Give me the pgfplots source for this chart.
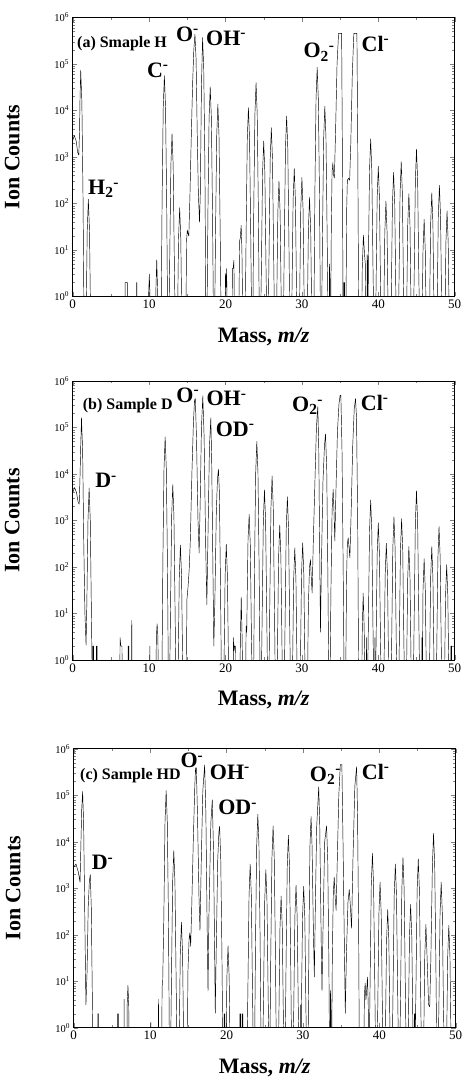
\documentclass[border=0pt]{standalone}
\usepackage{fontspec}
\setmainfont{Liberation Serif}
\usepackage{pgfplots}
\usepackage{pgfplotstable}
\pgfplotsset{compat=1.18}
\pgfkeys{/pgf/number format/assume math mode=true}

% columns: mass, log10(ion counts)
\pgfplotstableread{
x L
0 3.35
0.2 3.46
0.45 3.35
0.65 3.1
0.8 3.04
0.9 3.6
0.95 4.2
1.05 4.86
1.2 4.18
1.35 2.16
1.5 -1
1.6 -1
1.75 -0.61
1.9 1.41
2.05 2.09
2.2 1.41
2.35 -0.61
2.5 -1
6.85 -1
6.85 0.3
7.15 0.3
7.15 -1
8.35 -1
8.35 0.3
8.4 0.3
8.4 -1
9.85 -1
9.95 0.1
10.03 0.48
10.1 0.1
10.2 -1
10.8 -1
10.9 0.2
11 0.79
11.1 0.2
11.2 -1
11.55 -1
11.7 2.05
11.85 4.07
12 4.75
12.15 4.07
12.3 2.05
12.45 -1
12.55 -1
12.7 0.8
12.85 2.82
13 3.5
13.15 2.82
13.3 0.8
13.45 -1
13.55 -1
13.7 -0.79
13.85 1.23
14 1.91
14.15 1.23
14.3 -0.79
14.45 -1
14.8 -1
14.9 1.2
15.0 1.43
15.1 1.35
15.2 1.3
15.35 2.2
15.5 3.3
15.7 4.6
15.85 5.3
16.0 5.64
16.15 5.1
16.3 3.5
16.45 2.2
16.6 1.6
16.7 2.2
16.85 4.5
17.0 5.57
17.15 4.9
17.3 2.87
17.45 -1
17.55 -1
17.7 1.81
17.85 3.83
18 4.51
18.15 3.83
18.3 1.81
18.45 -1
18.55 -1
18.7 1.44
18.85 3.46
19 4.14
19.15 3.46
19.3 1.44
19.45 -1
19.9 -1
20.0 0.5
20.08 0.2
20.15 0.6
20.25 -1
20.85 -1
20.9 0.6
21.0 0.6
21.1 0.78
21.2 -1
21.7 -1
21.85 1.2
21.93 1.25
22.05 1.53
22.15 1.0
22.3 -1
22.55 -1
22.7 1.36
22.85 3.38
23 4.06
23.15 3.38
23.3 1.36
23.45 -1
23.55 -1
23.7 1.9
23.85 3.92
24 4.6
24.15 3.92
24.3 1.9
24.45 -1
24.55 -1
24.7 0.64
24.85 2.66
25 3.34
25.15 2.66
25.3 0.64
25.45 -1
25.55 -1
25.7 0.93
25.85 2.95
26 3.63
26.15 2.95
26.3 0.93
26.45 -1
26.55 -1
26.7 -0.22
26.85 1.8
27 2.48
27.15 1.8
27.3 -0.22
27.45 -1
27.55 -1
27.7 1.18
27.85 3.2
28 3.88
28.15 3.2
28.3 1.18
28.45 -1
28.55 -1
28.7 0.05
28.85 2.07
29 2.75
29.15 2.07
29.3 0.05
29.45 -1
29.55 -1
29.7 -0.14
29.85 1.88
30 2.56
30.15 1.88
30.3 -0.14
30.45 -1
30.55 -1
30.7 -0.57
30.85 1.45
31 2.13
31.15 1.45
31.3 -0.57
31.45 -1
31.55 -1
31.7 2.23
31.85 4.25
32 4.93
32.15 4.25
32.3 2.23
32.45 -1
32.55 -1
32.7 1.39
32.85 3.41
33 4.09
33.15 3.41
33.3 1.39
33.45 -1
33.55 -1
33.6 0.7
33.65 0.5
33.7 -1
33.75 -1
33.85 1.5
33.95 2.7
34.0 2.75
34.05 2.88
34.15 2.6
34.25 2.55
34.4 3.5
34.6 5.0
34.8 5.66
35.2 5.66
35.3 3.0
35.4 -1
35.5 -1
35.5 0.3
35.6 0.3
35.6 -1
35.75 -1
35.85 1.8
35.95 2.5
36.1 2.54
36.25 2.5
36.4 3.3
36.6 4.8
36.8 5.66
37.2 5.66
37.3 3.5
37.45 -1
37.8 -1
37.9 0.6
38.05 1.32
38.2 0.9
38.3 0.7
38.4 -1
38.5 -1
38.55 0.9
38.6 0.75
38.65 -1
38.7 0.69
38.85 2.71
39 3.39
39.15 2.71
39.3 0.69
39.45 -1
39.55 -1
39.7 0.1
39.85 2.12
40 2.8
40.15 2.12
40.3 0.1
40.45 -1
40.55 -1
40.7 -0.65
40.85 1.37
41 2.05
41.15 1.37
41.3 -0.65
41.45 -1
41.55 -1
41.7 -0.03
41.85 1.99
42 2.67
42.15 1.99
42.3 -0.03
42.45 -1
42.55 -1
42.7 0.2
42.85 2.22
43 2.9
43.15 2.22
43.3 0.2
43.45 -1
43.55 -1
43.7 -0.49
43.85 1.53
44 2.21
44.15 1.53
44.3 -0.49
44.45 -1
44.55 -1
44.7 0.47
44.85 2.49
45 3.17
45.15 2.49
45.3 0.47
45.45 -1
45.55 -1
45.7 -1.04
45.85 0.98
46 1.66
46.15 0.98
46.3 -1.04
46.45 -1
46.55 -1
46.7 -0.47
46.85 1.55
47 2.23
47.15 1.55
47.3 -0.47
47.45 -1
47.55 -1
47.7 -0.31
47.85 1.71
48 2.39
48.15 1.71
48.3 -0.31
48.45 -1
48.55 -1
48.7 -0.86
48.85 1.16
49 1.84
49.15 1.16
49.3 -0.86
49.45 -1
50 -1
}\dataA

\pgfplotstableread{
x L
0 3.6
0.25 3.71
0.5 3.6
0.7 3.4
0.85 3.35
0.95 3.9
1.05 4.6
1.15 5.21
1.3 4.5
1.45 2.5
1.6 1.0
1.75 0.32
1.85 1.2
2.0 3.0
2.15 3.7
2.3 3.0
2.45 1.0
2.6 -1
2.65 -1
2.65 0.3
2.75 0.3
2.75 -1
3.1 -1
3.1 0.3
3.2 0.3
3.2 -1
6.15 -1
6.2 0.48
6.3 0.3
6.45 0.3
6.5 -1
7.25 -1
7.25 0.3
7.35 0.3
7.35 -1
7.65 -1
7.73 0.85
7.8 -1
10.05 -1
10.1 0.3
10.18 -1
10.85 -1
10.95 0.5
11.05 0.78
11.15 0.5
11.25 -1
11.65 -1
11.8 2.1
11.95 4.12
12.1 4.8
12.25 4.12
12.4 2.1
12.55 -1
12.65 -1
12.8 1.07
12.95 3.09
13.1 3.77
13.25 3.09
13.4 1.07
13.55 -1
13.65 -1
13.8 -0.23
13.95 1.79
14.1 2.47
14.25 1.79
14.4 -0.23
14.55 -1
14.85 -1
14.95 1.3
15.1 1.58
15.25 1.95
15.4 2.6
15.6 4.0
15.8 5.1
15.95 5.6
16.0 5.55
16.05 5.62
16.2 4.8
16.4 3.0
16.55 2.3
16.7 3.5
16.85 5.0
17.03 5.68
17.2 4.8
17.4 2.5
17.56 1.19
17.7 2.6
17.9 4.6
18.08 5.21
18.2 4.2
18.35 2.0
18.47 0.3
18.6 1.2
18.8 3.2
18.95 3.9
19.08 4.1
19.2 3.6
19.35 1.5
19.5 -1
19.65 -1
19.8 -0.21
19.95 1.81
20.1 2.49
20.25 1.81
20.4 -0.21
20.55 -1
20.95 -1
21.05 0.48
21.12 0.2
21.2 0.3
21.3 0.3
21.35 -1
21.85 -1
21.95 0.5
22.06 1.35
22.17 0.5
22.3 -1
22.6 -1
22.7 0.73
22.78 0.6
22.85 1.5
22.95 2.6
23.1 3.13
23.25 2.45
23.4 0.43
23.55 -1
23.65 -1
23.8 2.0
23.95 4.02
24.1 4.7
24.25 4.02
24.4 2.0
24.55 -1
24.65 -1
24.8 0.96
24.95 2.98
25.1 3.66
25.25 2.98
25.4 0.96
25.55 -1
25.65 -1
25.8 1.26
25.95 3.28
26.1 3.96
26.25 3.28
26.4 1.26
26.55 -1
26.65 -1
26.8 0.2
26.95 2.22
27.1 2.9
27.25 2.22
27.4 0.2
27.55 -1
27.65 -1
27.8 0.81
27.95 2.83
28.1 3.51
28.25 2.83
28.4 0.81
28.55 -1
28.6 -1
28.77 -0.29
28.92 1.73
29.07 2.41
29.22 1.73
29.37 -0.29
29.55 -1
29.65 -1
29.8 -0.18
29.95 1.84
30.1 2.52
30.25 1.84
30.4 -0.18
30.55 -1
30.7 -1
30.85 1.2
31.0 2.0
31.12 2.16
31.25 1.7
31.34 1.44
31.5 2.6
31.7 3.8
31.9 5.0
32.08 5.45
32.2 4.6
32.35 2.0
32.43 0.6
32.55 2.0
32.75 3.8
32.95 4.6
33.09 4.86
33.25 4.1
33.4 1.8
33.55 -1
33.65 -1
33.8 1.5
33.95 3.2
34.09 3.67
34.2 3.2
34.31 2.56
34.45 3.6
34.65 4.9
34.85 5.5
35.0 5.69
35.1 5.69
35.25 4.5
35.4 2.0
35.55 -1
35.7 -1
35.85 1.8
35.95 2.5
36.06 2.63
36.18 2.4
36.28 2.2
36.45 3.2
36.65 4.6
36.85 5.4
37.02 5.62
37.15 5.2
37.3 3.0
37.45 -1
37.8 -1
37.9 0.6
38.02 1.44
38.15 0.7
38.3 -1
38.4 -1
38.45 0.48
38.5 -1
38.55 -1
38.7 0.74
38.85 2.76
39 3.44
39.15 2.76
39.3 0.74
39.45 -1
39.5 -1
39.55 0.48
39.6 -1
39.7 0.25
39.85 2.27
40 2.95
40.15 2.27
40.3 0.25
40.45 -1
40.6 -1
40.75 -0.19
40.9 1.83
41.05 2.51
41.2 1.83
41.35 -0.19
41.5 -1
41.6 -1
41.75 0.38
41.9 2.4
42.05 3.08
42.2 2.4
42.35 0.38
42.5 -1
42.6 -1
42.75 0.34
42.9 2.36
43.05 3.04
43.2 2.36
43.35 0.34
43.5 -1
43.55 -1
43.7 -0.26
43.85 1.76
44 2.44
44.15 1.76
44.3 -0.26
44.45 -1
44.55 -1
44.7 0.94
44.85 2.96
45 3.64
45.15 2.96
45.3 0.94
45.45 -1
45.65 -1
45.7 0.48
45.75 -1
45.85 1.5
46 2.18
46.15 1.5
46.3 -0.52
46.45 -1
46.55 -1
46.7 -0.26
46.85 1.76
47 2.44
47.15 1.76
47.3 -0.26
47.45 -1
47.5 -1
47.65 0.17
47.8 2.19
47.95 2.87
48.1 2.19
48.25 0.17
48.4 -1
48.5 -1
48.65 -0.65
48.8 1.37
48.95 2.05
49.1 1.37
49.25 -0.65
49.4 -1
49.5 -1
49.5 0.3
49.6 0.3
49.6 -1
50 -1
}\dataB

\pgfplotstableread{
x L
0 3.45
0.3 3.52
0.6 3.35
0.83 3.13
0.95 4.0
1.05 4.7
1.17 5.08
1.3 4.4
1.45 2.4
1.6 0.49
1.75 1.2
1.9 2.6
2.05 3.15
2.17 3.29
2.3 2.6
2.45 0.5
2.55 -1
3.15 -1
3.15 0.3
3.25 0.3
3.25 -1
5.75 -1
5.75 0.3
5.85 0.3
5.85 -1
6.55 -1
6.6 0.61
6.65 -1
6.95 -1
7.0 0.5
7.1 0.91
7.2 0.5
7.3 -1
10.05 -1
10.1 0.12
10.15 -1
11.05 -1
11.1 0.61
11.15 -1
11.5 -1
11.57 0.88
11.65 1.0
11.8 2.4
11.95 4.42
12.1 5.1
12.25 4.42
12.4 2.4
12.55 -1
12.65 -1
12.8 1.11
12.95 3.13
13.1 3.81
13.25 3.13
13.4 1.11
13.55 -1
13.65 -1
13.8 -0.43
13.95 1.59
14.1 2.27
14.25 1.59
14.4 -0.43
14.55 -1
14.85 -1
14.95 1.2
15.1 1.9
15.2 2.04
15.31 1.75
15.45 2.6
15.65 4.0
15.85 5.2
15.95 5.59
16.0 5.5
16.05 5.59
16.2 4.6
16.4 2.8
16.53 2.09
16.7 3.6
16.9 5.1
17.14 5.65
17.3 4.6
17.45 2.4
17.58 0.79
17.7 2.4
17.95 4.4
18.14 4.9
18.3 3.8
18.45 1.6
18.53 0.31
18.65 1.6
18.85 3.6
19.0 4.2
19.1 4.33
19.25 3.6
19.4 1.6
19.55 -1
19.7 -1
19.7 0.3
19.78 0.3
19.78 -1
19.9 -1
20.05 1.08
20.2 1.76
20.35 1.08
20.5 -0.94
20.6 -1
21.75 -1
21.75 0.3
21.85 0.3
21.85 -1
22.05 -1
22.05 0.3
22.15 0.3
22.15 -1
22.65 -1
22.8 0.82
22.95 2.84
23.1 3.52
23.25 2.84
23.4 0.82
23.55 -1
23.65 -1
23.8 1.89
23.95 3.91
24.1 4.59
24.25 3.91
24.4 1.89
24.55 -1
24.7 -1
24.85 0.7
25.0 2.72
25.15 3.4
25.3 2.72
25.45 0.7
25.6 -1
25.65 -1
25.8 1.64
25.95 3.66
26.1 4.34
26.25 3.66
26.4 1.64
26.55 -1
26.7 -1
26.85 0.13
27.0 2.15
27.15 2.83
27.3 2.15
27.45 0.13
27.6 -1
27.65 -1
27.8 1.44
27.95 3.46
28.1 4.14
28.25 3.46
28.4 1.44
28.55 -1
28.65 -1
28.8 0.36
28.95 2.38
29.1 3.06
29.25 2.38
29.4 0.36
29.55 -1
29.65 -1
29.7 0.49
29.75 -1
29.8 0.34
29.95 2.36
30.1 3.04
30.25 2.36
30.4 0.34
30.55 -1
30.65 -1
30.8 2.0
30.92 3.9
31.07 4.54
31.2 3.9
31.38 2.0
31.5 1.09
31.62 2.5
31.8 4.3
32.07 5.18
32.2 4.4
32.4 1.8
32.5 0.79
32.62 2.0
32.85 4.0
33.1 4.34
33.25 3.6
33.4 1.4
33.5 -1
33.55 -1
33.6 0.8
33.65 0.6
33.7 -1
33.75 -1
33.85 1.5
33.98 2.9
34.1 3.24
34.22 2.8
34.35 2.52
34.5 3.6
34.7 5.0
34.9 5.66
35.1 5.66
35.25 4.0
35.45 1.5
35.55 0.31
35.7 1.6
35.9 2.7
36.07 2.97
36.22 2.6
36.37 2.14
36.55 3.6
36.8 5.2
37.03 5.61
37.15 4.6
37.3 2.0
37.4 -1
37.95 -1
38.05 0.7
38.15 0.96
38.25 0.6
38.35 0.8
38.45 1.09
38.55 0.5
38.65 -1
38.8 1.05
38.95 3.07
39.1 3.75
39.25 3.07
39.4 1.05
39.55 -1
39.65 -1
39.8 0.43
39.95 2.45
40.1 3.13
40.25 2.45
40.4 0.43
40.55 -1
40.65 -1
40.8 -0.16
40.95 1.86
41.1 2.54
41.25 1.86
41.4 -0.16
41.55 -1
41.65 -1
41.8 0.82
41.95 2.84
42.1 3.52
42.25 2.84
42.4 0.82
42.55 -1
42.65 -1
42.8 0.96
42.95 2.98
43.1 3.66
43.25 2.98
43.4 0.96
43.55 -1
43.65 -1
43.8 -0.05
43.95 1.97
44.1 2.65
44.25 1.97
44.4 -0.05
44.55 -1
44.58 -1
44.58 0.3
44.65 0.3
44.65 -1
44.8 0.93
44.95 2.95
45.1 3.63
45.25 2.95
45.4 0.93
45.55 -1
45.65 -1
45.8 -0.48
45.95 1.54
46.1 2.22
46.25 1.54
46.45 0.5
46.6 0.45
46.75 1.5
46.95 3.5
47.1 4.18
47.25 3.5
47.4 1.48
47.55 -1
47.65 -1
47.8 0.43
47.95 2.45
48.1 3.13
48.25 2.45
48.4 0.43
48.55 -1
48.65 -1
48.8 -0.5
48.95 1.52
49.1 2.2
49.25 1.52
49.4 -0.5
49.55 -1
50 -1
}\dataC

\tikzset{
  ionlbl/.style={anchor=base west, inner sep=0pt, font=\fontsize{22}{24}\selectfont\bfseries},
  taglbl/.style={anchor=base west, inner sep=0pt, font=\fontsize{16}{18}\selectfont\bfseries},
}

\begin{document}
\begin{tikzpicture}
\useasboundingbox (0pt,0pt) rectangle (468pt,1078pt);

% (a)
\begin{axis}[ymode=log, at={(72.7pt,781.5pt)}, anchor=south west,
    scale only axis, width=382pt, height=279pt,
    xmin=0, xmax=50, ymin=1, ymax=1000000,
    xtick={0,10,20,30,40,50}, minor xtick={5,15,25,35,45},
    ytick={1,10,100,1000,10000,100000,1000000},
    yticklabels={10\textsuperscript{0},10\textsuperscript{1},10\textsuperscript{2},10\textsuperscript{3},10\textsuperscript{4},10\textsuperscript{5},10\textsuperscript{6}},
    minor ytick={2,3,4,5,6,7,8,9,20,30,40,50,60,70,80,90,200,300,400,500,600,700,800,900,2000,3000,4000,5000,6000,7000,8000,9000,20000,30000,40000,50000,60000,70000,80000,90000,200000,300000,400000,500000,600000,700000,800000,900000},
    xticklabel style={font=\fontsize{13}{14}\selectfont},
    yticklabel style={font=\fontsize{10.5}{12}\selectfont},
    xlabel={Mass, \textit{m/z}}, ylabel={Ion Counts},
    xlabel style={font=\fontsize{22}{24}\selectfont\bfseries, at={(axis description cs:0.5,-0.145)}, anchor=center},
    ylabel style={font=\fontsize{22}{24}\selectfont\bfseries, at={(axis description cs:-0.158,0.5)}, anchor=center},
    axis line style={line width=0.8pt},
    major tick length=4.5pt, minor tick length=2.5pt,
    clip mode=individual]
\addplot[black, line width=0.45pt, line join=round, mark=none] table[x=x, y expr={10^(\thisrow{L})}] {\dataA};
\node[taglbl] at (axis cs:0.56,2.25e5) {(a) Smaple H};
\node[ionlbl] at (axis cs:13.5,3.1e5) {O\textsuperscript{-}};
\node[ionlbl] at (axis cs:17.45,2.5e5) {OH\textsuperscript{-}};
\node[ionlbl] at (axis cs:9.7,5.2e4) {C\textsuperscript{-}};
\node[ionlbl] at (axis cs:2.0,155) {H\textsubscript{2}\textsuperscript{-}};
\node[ionlbl] at (axis cs:30.2,1.35e5) {O\textsubscript{2}\textsuperscript{-}};
\node[ionlbl] at (axis cs:37.8,1.9e5) {Cl\textsuperscript{-}};
\end{axis}

% (b)
\begin{axis}[ymode=log, at={(72.7pt,418pt)}, anchor=south west,
    scale only axis, width=382pt, height=279pt,
    xmin=0, xmax=50, ymin=1, ymax=1000000,
    xtick={0,10,20,30,40,50}, minor xtick={5,15,25,35,45},
    ytick={1,10,100,1000,10000,100000,1000000},
    yticklabels={10\textsuperscript{0},10\textsuperscript{1},10\textsuperscript{2},10\textsuperscript{3},10\textsuperscript{4},10\textsuperscript{5},10\textsuperscript{6}},
    minor ytick={2,3,4,5,6,7,8,9,20,30,40,50,60,70,80,90,200,300,400,500,600,700,800,900,2000,3000,4000,5000,6000,7000,8000,9000,20000,30000,40000,50000,60000,70000,80000,90000,200000,300000,400000,500000,600000,700000,800000,900000},
    xticklabel style={font=\fontsize{13}{14}\selectfont},
    yticklabel style={font=\fontsize{10.5}{12}\selectfont},
    xlabel={Mass, \textit{m/z}}, ylabel={Ion Counts},
    xlabel style={font=\fontsize{22}{24}\selectfont\bfseries, at={(axis description cs:0.5,-0.145)}, anchor=center},
    ylabel style={font=\fontsize{22}{24}\selectfont\bfseries, at={(axis description cs:-0.158,0.5)}, anchor=center},
    axis line style={line width=0.8pt},
    major tick length=4.5pt, minor tick length=2.5pt,
    clip mode=individual]
\addplot[black, line width=0.45pt, line join=round, mark=none] table[x=x, y expr={10^(\thisrow{L})}] {\dataB};
\node[taglbl] at (axis cs:1.3,2.45e5) {(b) Sample D};
\node[ionlbl] at (axis cs:13.55,3.5e5) {O\textsuperscript{-}};
\node[ionlbl] at (axis cs:17.5,2.95e5) {OH\textsuperscript{-}};
\node[ionlbl] at (axis cs:18.7,6.5e4) {OD\textsuperscript{-}};
\node[ionlbl] at (axis cs:2.93,5.1e3) {D\textsuperscript{-}};
\node[ionlbl] at (axis cs:28.7,2.2e5) {O\textsubscript{2}\textsuperscript{-}};
\node[ionlbl] at (axis cs:37.7,2.35e5) {Cl\textsuperscript{-}};
\end{axis}

% (c)
\begin{axis}[ymode=log, at={(73.7pt,50.3pt)}, anchor=south west,
    scale only axis, width=382pt, height=279pt,
    xmin=0, xmax=50, ymin=1, ymax=1000000,
    xtick={0,10,20,30,40,50}, minor xtick={5,15,25,35,45},
    ytick={1,10,100,1000,10000,100000,1000000},
    yticklabels={10\textsuperscript{0},10\textsuperscript{1},10\textsuperscript{2},10\textsuperscript{3},10\textsuperscript{4},10\textsuperscript{5},10\textsuperscript{6}},
    minor ytick={2,3,4,5,6,7,8,9,20,30,40,50,60,70,80,90,200,300,400,500,600,700,800,900,2000,3000,4000,5000,6000,7000,8000,9000,20000,30000,40000,50000,60000,70000,80000,90000,200000,300000,400000,500000,600000,700000,800000,900000},
    xticklabel style={font=\fontsize{13}{14}\selectfont},
    yticklabel style={font=\fontsize{10.5}{12}\selectfont},
    xlabel={Mass, \textit{m/z}}, ylabel={Ion Counts},
    xlabel style={font=\fontsize{22}{24}\selectfont\bfseries, at={(axis description cs:0.5,-0.145)}, anchor=center},
    ylabel style={font=\fontsize{22}{24}\selectfont\bfseries, at={(axis description cs:-0.158,0.5)}, anchor=center},
    axis line style={line width=0.8pt},
    major tick length=4.5pt, minor tick length=2.5pt,
    clip mode=individual]
\addplot[black, line width=0.45pt, line join=round, mark=none] table[x=x, y expr={10^(\thisrow{L})}] {\dataC};
\node[taglbl] at (axis cs:0.83,2.15e5) {(c) Sample HD};
\node[ionlbl] at (axis cs:13.97,3.9e5) {O\textsuperscript{-}};
\node[ionlbl] at (axis cs:17.8,2.2e5) {OH\textsuperscript{-}};
\node[ionlbl] at (axis cs:18.9,3.8e4) {OD\textsuperscript{-}};
\node[ionlbl] at (axis cs:2.35,2.5e3) {D\textsuperscript{-}};
\node[ionlbl] at (axis cs:30.9,2.0e5) {O\textsubscript{2}\textsuperscript{-}};
\node[ionlbl] at (axis cs:37.7,2.2e5) {Cl\textsuperscript{-}};
\end{axis}
\end{tikzpicture}
\end{document}
